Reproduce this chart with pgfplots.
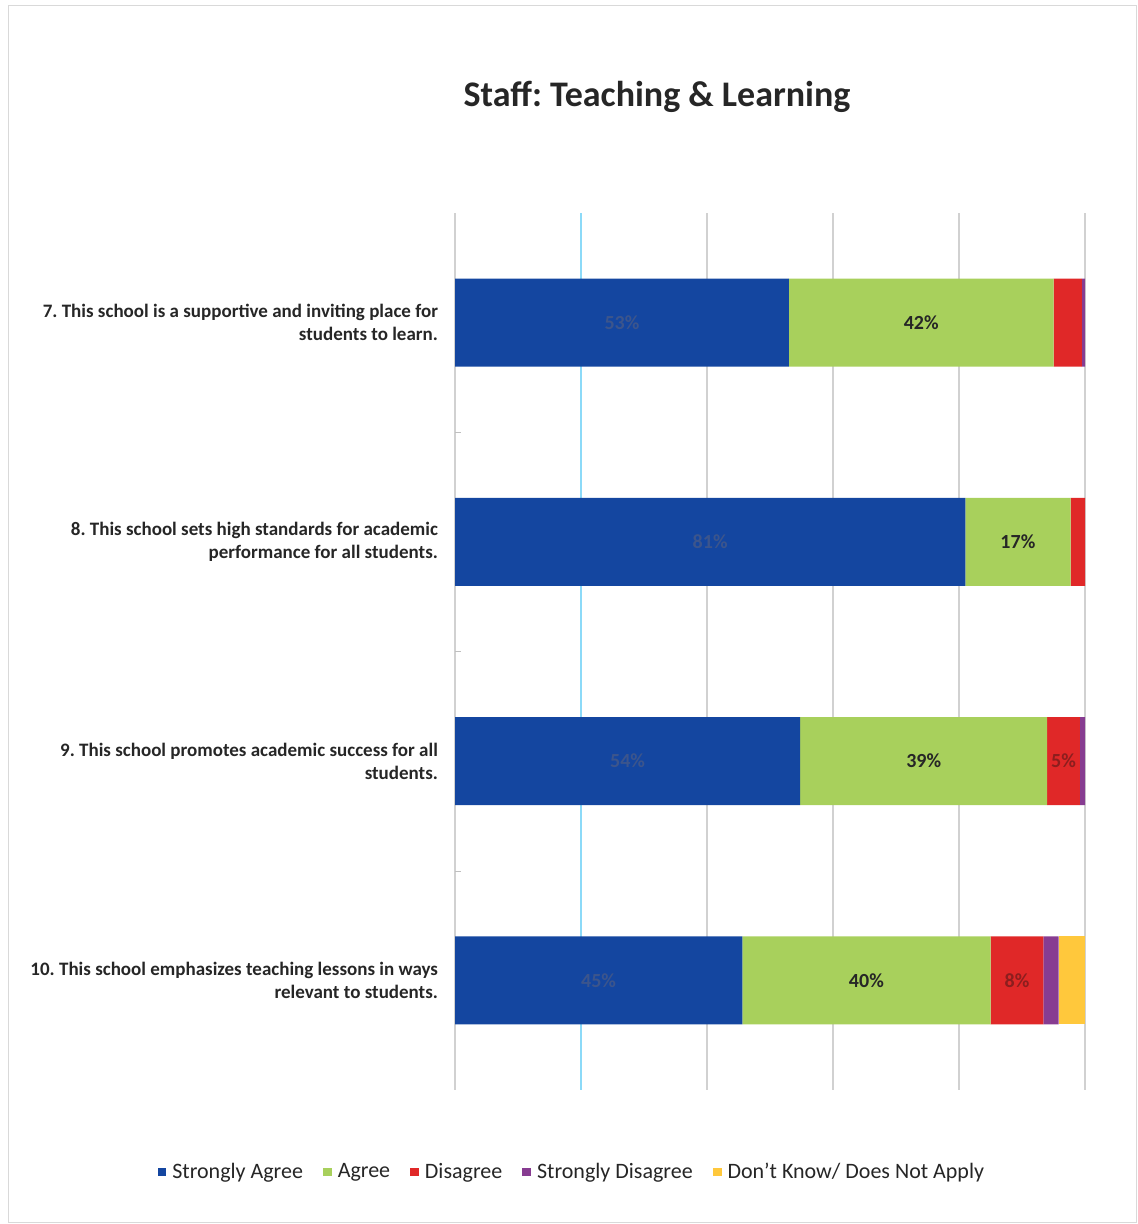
\documentclass[border=0pt]{standalone}
\usepackage{fontspec}
\setmainfont{Carlito}
\usepackage{pgfplots}
\pgfplotsset{compat=1.18}
\definecolor{cSA}{RGB}{20,70,160}
\definecolor{cA}{RGB}{168,208,92}
\definecolor{cD}{RGB}{224,40,40}
\definecolor{cSD}{RGB}{135,60,145}
\definecolor{cDK}{RGB}{255,200,60}
\definecolor{tSA}{RGB}{60,85,140}
\definecolor{tD}{RGB}{140,30,30}
\frenchspacing
\begin{document}
\begin{tikzpicture}
\useasboundingbox (0,0) rectangle (569pt,612pt);
\draw[black!15] (4pt,1pt) rectangle (568pt,609.5pt);
\node[font=\fontsize{18}{20}\selectfont\bfseries, text=black!85] at (328.5pt,563.5pt) {Staff: Teaching \& Learning};
\begin{axis}[
  at={(227.5pt,67pt)}, anchor=south west,
  scale only axis, width=315pt, height=438.5pt,
  xbar stacked, bar width=44pt,
  xmin=0, xmax=100, ymin=-0.5, ymax=3.5, y dir=reverse,
  xtick={0,20,...,100}, xticklabels={},
  xmajorgrids, grid style={black!18, line width=0.6pt},
  extra x ticks={20}, extra x tick labels={}, extra x tick style={grid style={cyan!45, line width=0.7pt}, major tick length=0},
  major tick length=0,
  ytick={0,1,2,3}, ytick pos=left,
  minor ytick={0.5,1.5,2.5}, minor tick length=3pt,
  minor tick style={black!25},
  yticklabels={{7. This school is a supportive and inviting place for\\students to learn.},
               {8. This school sets high standards for academic\\performance for all students.},
               {9. This school promotes academic success for all\\students.},
               {10. This school emphasizes teaching lessons in ways\\relevant to students.}},
  yticklabel style={align=right, font=\fontsize{9.5}{11.5}\selectfont\bfseries, text=black!85, xshift=-5pt},
  axis line style={draw=none},
  legend columns=5,
  legend style={draw=none, at={(0.187,-0.0935)}, anchor=center, font=\fontsize{11}{12}\selectfont, text=black!85, column sep=1pt, /tikz/every even column/.append style={column sep=8pt}},
  legend image code/.code={\fill[#1] (0pt,-2.2pt) rectangle (4.4pt,2.2pt);},
  point meta=explicit symbolic,
  every node near coord/.append style={anchor=center, font=\fontsize{10}{12}\selectfont\bfseries},
]
\addplot[fill=cSA, draw=none, nodes near coords, every node near coord/.append style={text=tSA}]
  coordinates {(53,0) [53\%] (81,1) [81\%] (54.8,2) [54\%] (45.6,3) [45\%]};
\addplot[fill=cA, draw=none, nodes near coords, every node near coord/.append style={text=black!85}]
  coordinates {(42,0) [42\%] (16.7,1) [17\%] (39.2,2) [39\%] (39.4,3) [40\%]};
\addplot[fill=cD, draw=none, nodes near coords, every node near coord/.append style={text=tD}]
  coordinates {(4.5,0) [\relax] (2.3,1) [\relax] (5.2,2) [5\%] (8.4,3) [8\%]};
\addplot[fill=cSD, draw=none]
  coordinates {(0.5,0) [\relax] (0,1) [\relax] (0.8,2) [\relax] (2.4,3) [\relax]};
\addplot[fill=cDK, draw=none]
  coordinates {(0,0) [\relax] (0,1) [\relax] (0,2) [\relax] (4.2,3) [\relax]};
\legend{Strongly Agree, Agree, Disagree, Strongly Disagree, Don't Know/ Does Not Apply}
\end{axis}
\end{tikzpicture}
\end{document}
